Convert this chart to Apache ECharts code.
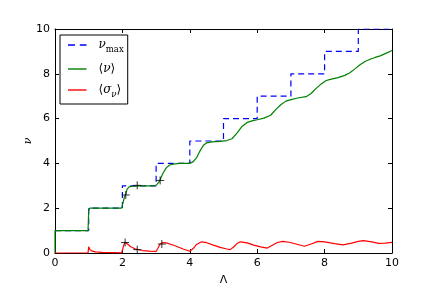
<!DOCTYPE html>
<html><head><meta charset="utf-8">
<script src="https://cdn.jsdelivr.net/npm/echarts@6/dist/echarts.min.js"></script>
<style>html,body{margin:0;padding:0;background:#fff}#c{width:436px;height:291px}</style>
</head><body><div id="c"></div>
<script>
const xTicks = [0, 2, 4, 6, 8, 10];
const yTicks = [0, 2, 4, 6, 8, 10];

const maxLambda = [0, 1, 2, 3, 4, 5, 6, 7, 8, 9, 10];
const maxNu     = [1, 2, 3, 4, 5, 6, 7, 8, 9, 10, 10];

const meanLambda = [0, 0, 0.98, 1.0, 1.03, 1.98, 2.02, 2.06, 2.1, 2.14, 2.2, 2.3, 2.5, 2.95, 3.02, 3.1, 3.2, 3.3, 3.4, 3.5, 3.7, 4.0, 4.1, 4.2, 4.3, 4.4, 4.5, 4.65, 4.9, 5.1, 5.25, 5.4, 5.55, 5.7, 5.85, 6.0, 6.2, 6.4, 6.55, 6.7, 6.85, 7.0, 7.2, 7.45, 7.6, 7.75, 7.9, 8.05, 8.2, 8.4, 8.6, 8.75, 8.9, 9.05, 9.2, 9.35, 9.5, 9.65, 9.8, 10];
const meanNu     = [0, 1, 1, 1.9, 2, 2, 2.25, 2.5, 2.62, 2.85, 2.95, 2.98, 3.0, 3.0, 3.05, 3.2, 3.55, 3.8, 3.93, 3.97, 4.0, 4.0, 4.08, 4.25, 4.55, 4.8, 4.92, 4.96, 4.98, 5.02, 5.1, 5.35, 5.65, 5.83, 5.9, 5.95, 6.02, 6.15, 6.4, 6.62, 6.78, 6.85, 6.92, 6.98, 7.12, 7.35, 7.55, 7.7, 7.76, 7.83, 7.93, 8.05, 8.22, 8.4, 8.55, 8.65, 8.73, 8.8, 8.9, 9.04];

const sigmaLambda = [0, 0.98, 1.0, 1.04, 1.1, 1.2, 1.4, 1.7, 1.98, 2.0, 2.04, 2.08, 2.15, 2.25, 2.4, 2.6, 2.8, 3.0, 3.05, 3.12, 3.2, 3.3, 3.45, 3.6, 3.8, 4.0, 4.1, 4.2, 4.35, 4.5, 4.7, 4.9, 5.1, 5.2, 5.3, 5.4, 5.5, 5.7, 5.9, 6.1, 6.3, 6.45, 6.6, 6.75, 6.95, 7.15, 7.4, 7.6, 7.8, 8.0, 8.3, 8.55, 8.8, 9.0, 9.15, 9.4, 9.6, 9.8, 10];
const sigmaNu     = [0, 0, 0.28, 0.15, 0.08, 0.05, 0.03, 0.02, 0.01, 0.01, 0.35, 0.48, 0.4, 0.28, 0.17, 0.11, 0.08, 0.07, 0.2, 0.4, 0.47, 0.45, 0.38, 0.3, 0.18, 0.08, 0.2, 0.38, 0.5, 0.46, 0.35, 0.25, 0.18, 0.15, 0.27, 0.42, 0.5, 0.45, 0.35, 0.27, 0.22, 0.35, 0.47, 0.52, 0.48, 0.4, 0.3, 0.4, 0.52, 0.5, 0.42, 0.36, 0.44, 0.52, 0.55, 0.5, 0.43, 0.44, 0.47];

const markLambda = [2.1, 2.44, 3.12, 2.08, 2.44, 3.17];
const markNu     = [2.59, 3.02, 3.24, 0.47, 0.15, 0.4];

const seriesNames = ['max', 'mean', 'sigma'];

function zip(a, b) { return a.map((v, i) => [v, b[i]]); }

const chart = echarts.init(document.getElementById('c'), null, {renderer: 'canvas'});
const axisCommon = {
  type: 'value', min: 0, max: 10, interval: 2,
  axisLine: {show: true, onZero: false, lineStyle: {color: '#000', width: 1}},
  axisTick: {show: true, inside: true, length: 4, lineStyle: {color: '#000', width: 1}},
  splitLine: {show: false}
};
const lab = {color: '#000', fontFamily: 'DejaVu Sans', fontSize: 11};
const labels = {
  max: '{g|}{i|ν}{s|max}',
  mean: '{g|}{t|⟨}{i|ν}{t|⟩}',
  sigma: '{g|}{t|⟨}{i|σ}{si|ν}{t|⟩}'
};
const dashIcon = 'path://M0,0 M18.5,12 M0,5.3h7v1.4h-7z M11.8,5.3h6.7v1.4h-6.7z';
const solidIcon = 'path://M0,0 M18.5,12 M0,5.3h18.5v1.4h-18.5z';
chart.setOption({
  animation: false,
  grid: {left: 55, right: 44, top: 29, bottom: 37, containLabel: false},
  xAxis: [
    Object.assign({}, axisCommon, {position: 'bottom',
      axisLabel: Object.assign({margin: 5}, lab),
      name: 'Λ', nameLocation: 'middle', nameGap: 22, nameMoveOverlap: false,
      nameTextStyle: {color: '#000', fontFamily: 'DejaVu Sans', fontSize: 11}}),
    Object.assign({}, axisCommon, {position: 'top', axisLabel: {show: false}})
  ],
  yAxis: [
    Object.assign({}, axisCommon, {position: 'left',
      axisLabel: Object.assign({margin: 5}, lab),
      name: 'ν', nameLocation: 'middle', nameGap: 21.5, nameRotate: 90, nameMoveOverlap: false,
      nameTextStyle: {color: '#000', fontFamily: 'DejaVu Serif', fontStyle: 'italic', fontSize: 11}}),
    Object.assign({}, axisCommon, {position: 'right', axisLabel: {show: false}})
  ],
  legend: {
    show: true, orient: 'vertical', left: 60, top: 35,
    data: [
      {name: 'max', icon: dashIcon},
      {name: 'mean', icon: solidIcon},
      {name: 'sigma', icon: solidIcon}
    ],
    backgroundColor: '#fff', borderColor: '#000', borderWidth: 1, borderRadius: 0,
    padding: [4, 4, 5, 8], itemGap: 9, itemWidth: 18.5, itemHeight: 12,
    formatter: n => labels[n],
    textStyle: {
      color: '#000',
      rich: {
        g: {width: 7, lineHeight: 18},
        i: {fontFamily: 'DejaVu Serif', fontStyle: 'italic', fontSize: 12, color: '#000', lineHeight: 18},
        t: {fontFamily: 'DejaVu Sans', fontSize: 12, color: '#000', lineHeight: 18},
        s: {fontFamily: 'DejaVu Serif', fontSize: 8.5, color: '#000', lineHeight: 18, verticalAlign: 'bottom'},
        si: {fontFamily: 'DejaVu Serif', fontStyle: 'italic', fontSize: 8.5, color: '#000', lineHeight: 18, verticalAlign: 'bottom'}
      }
    }
  },
  series: [
    {name: 'max', type: 'line', step: 'end', data: zip(maxLambda, maxNu), symbol: 'none',
     lineStyle: {color: '#0000ff', width: 1.2, type: [6, 4]}, itemStyle: {color: '#0000ff'}, z: 2},
    {name: 'mean', type: 'line', data: zip(meanLambda, meanNu), symbol: 'none',
     lineStyle: {color: '#008000', width: 1.2}, itemStyle: {color: '#008000'}, z: 3},
    {name: 'sigma', type: 'line', data: zip(sigmaLambda, sigmaNu), symbol: 'none',
     lineStyle: {color: '#ff0000', width: 1.2}, itemStyle: {color: '#ff0000'}, z: 4},
    {name: 'pts', type: 'scatter', data: zip(markLambda, markNu),
     symbol: 'path://M0,5L10,5M5,0L5,10', symbolSize: 8,
     itemStyle: {color: 'transparent', borderColor: '#000', borderWidth: 1}, z: 5}
  ]
});
</script></body></html>
